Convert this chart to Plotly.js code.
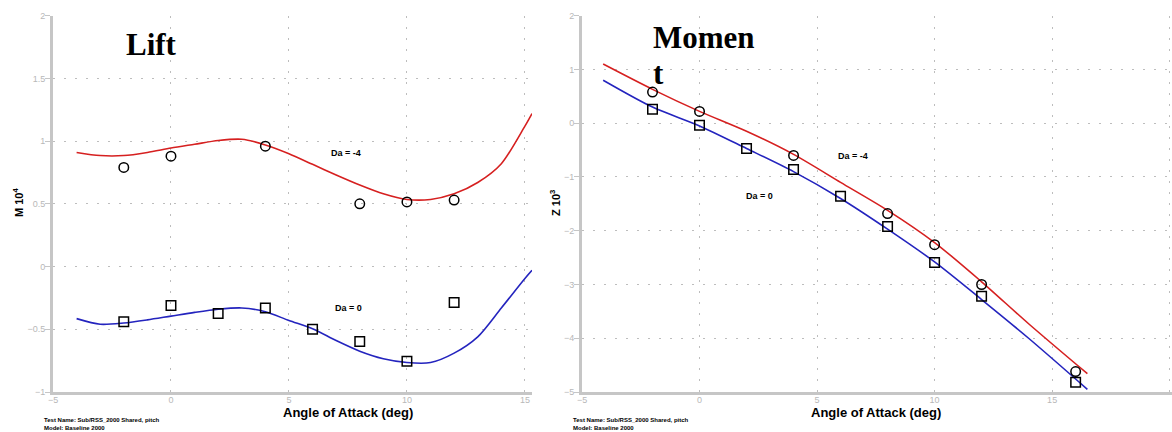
<!DOCTYPE html>
<html>
<head>
<meta charset="utf-8">
<script src="https://cdn.plot.ly/plotly-3.0.1.min.js"></script>
<style>
  html, body { margin: 0; padding: 0; background: #ffffff; }
  #chart { width: 1172px; height: 432px; }
</style>
</head>
<body>
<div id="chart"></div>
<script>
// ---- Lift panel: measured points ----
const liftAlphaM4 = [-2, 0, 4, 8, 10, 12];
const liftM4 = [0.79, 0.88, 0.96, 0.50, 0.515, 0.53];
const liftAlpha0 = [-2, 0, 2, 4, 6, 8, 10, 12];
const lift0 = [-0.44, -0.31, -0.375, -0.33, -0.50, -0.597, -0.755, -0.286];

// ---- Lift panel: fitted curves ----
const liftFitAlpha = [-4, -3, -2, -1, 0, 1, 2, 3, 4, 5, 6, 7, 8, 9, 10, 11, 12, 13, 14, 15, 15.3];
const liftFitM4 = [0.91, 0.885, 0.885, 0.91, 0.945, 0.975, 1.005, 1.015, 0.97, 0.9, 0.815, 0.73, 0.65, 0.58, 0.535, 0.535, 0.58, 0.67, 0.82, 1.12, 1.22];
const liftFit0 = [-0.415, -0.46, -0.45, -0.425, -0.395, -0.365, -0.34, -0.33, -0.36, -0.43, -0.495, -0.59, -0.675, -0.735, -0.765, -0.765, -0.69, -0.56, -0.33, -0.095, -0.03];

// ---- Moment panel: measured points ----
const momAlphaM4 = [-2, 0, 4, 8, 10, 12, 16];
const momM4 = [0.58, 0.22, -0.60, -1.68, -2.26, -3.00, -4.62];
const momAlpha0 = [-2, 0, 2, 4, 6, 8, 10, 12, 16];
const mom0 = [0.26, -0.04, -0.47, -0.86, -1.36, -1.92, -2.59, -3.22, -4.82];

// ---- Moment panel: fitted curves ----
const momFitAlpha = [-4.1, -2, 0, 2, 4, 6, 8, 10, 12, 14, 16.5];
const momFitM4 = [1.10, 0.63, 0.22, -0.15, -0.58, -1.10, -1.62, -2.22, -2.95, -3.73, -4.66];
const momFit0 = [0.80, 0.30, -0.05, -0.47, -0.90, -1.40, -1.97, -2.58, -3.28, -4.00, -4.95];

// ---- Text ----
const panelTitles = ['Lift', 'Momen', 't'];
const xTitle = 'Angle of Attack (deg)';
const yTitles = ['M 10<sup>4</sup>', 'Z 10<sup>3</sup>'];
const seriesNames = ['Da = -4', 'Da = 0'];
const footer = ['Test Name: Sub/RSS_2000 Shared, pitch', 'Model: Baseline 2000'];

const RED = 'rgb(214,32,32)';
const BLUE = 'rgb(36,36,190)';
const MARK = { color: '#000', size: 9.5, line: { color: '#000', width: 1.5 } };

function curve(x, y, color, xa, ya) {
  return { x, y, xaxis: xa, yaxis: ya, mode: 'lines', hoverinfo: 'skip',
           line: { color, width: 1.6, shape: 'spline', smoothing: 0.8 } };
}
function pts(x, y, symbol, xa, ya) {
  return { x, y, xaxis: xa, yaxis: ya, mode: 'markers',
           marker: Object.assign({ symbol }, MARK) };
}

const traces = [
  curve(liftFitAlpha, liftFitM4, RED, 'x', 'y'),
  curve(liftFitAlpha, liftFit0, BLUE, 'x', 'y'),
  pts(liftAlphaM4, liftM4, 'circle-open', 'x', 'y'),
  pts(liftAlpha0, lift0, 'square-open', 'x', 'y'),
  curve(momFitAlpha, momFitM4, RED, 'x2', 'y2'),
  curve(momFitAlpha, momFit0, BLUE, 'x2', 'y2'),
  pts(momAlphaM4, momM4, 'circle-open', 'x2', 'y2'),
  pts(momAlpha0, mom0, 'square-open', 'x2', 'y2')
];

const W = 1172, H = 432;
const px = v => v / W;
const py = v => 1 - v / H;

const axisCommon = {
  showline: true, linecolor: '#c6c6c6', linewidth: 3,
  showgrid: true, gridcolor: '#bdbdbd', gridwidth: 1, griddash: '2px,9px',
  zeroline: false, mirror: false,
  tickfont: { family: 'Arial, Liberation Sans, sans-serif', size: 9, color: '#b8b8b8' }
};
const xAxisCommon = Object.assign({}, axisCommon, { ticks: '', ticklabelstandoff: -3 });
const yAxisCommon = Object.assign({}, axisCommon, { ticks: 'outside', ticklen: 5, tickcolor: '#c6c6c6', tickwidth: 1, ticklabelstandoff: -2 });
const yDomain = [py(392), py(15.7)];

const layout = {
  width: W, height: H,
  margin: { l: 0, r: 0, t: 0, b: 0 },
  paper_bgcolor: '#ffffff', plot_bgcolor: '#ffffff',
  showlegend: false,
  xaxis: Object.assign({}, xAxisCommon, { domain: [px(53), px(532)], range: [-5, 15.3], dtick: 5, tick0: 0, anchor: 'y' }),
  yaxis: Object.assign({}, yAxisCommon, { domain: yDomain, range: [-1, 2], dtick: 0.5, tick0: 0, anchor: 'x' }),
  xaxis2: Object.assign({}, xAxisCommon, { domain: [px(582), 1], range: [-5, 20.1], dtick: 5, tick0: 0, anchor: 'y2' }),
  yaxis2: Object.assign({}, yAxisCommon, { domain: yDomain, range: [-5, 2], dtick: 1, tick0: 0, anchor: 'x2' }),
  annotations: []
};

const A = layout.annotations;
const titleFont = { family: 'Liberation Serif, Times New Roman, serif', size: 31, color: '#000' };
const boldSans = (size) => ({ family: 'Liberation Sans, Arial, sans-serif', size, color: '#000' });

// panel titles
A.push({ xref: 'paper', yref: 'paper', x: px(151), y: py(44), xanchor: 'center', yanchor: 'middle',
         text: '<b>' + panelTitles[0] + '</b>', showarrow: false, font: titleFont });
A.push({ xref: 'paper', yref: 'paper', x: px(651), y: py(37), xanchor: 'left', yanchor: 'middle',
         text: '<b>' + panelTitles[1] + '</b>', showarrow: false, font: titleFont });
A.push({ xref: 'paper', yref: 'paper', x: px(651), y: py(73), xanchor: 'left', yanchor: 'middle',
         text: '<b>' + panelTitles[2] + '</b>', showarrow: false, font: titleFont });

// x axis titles
A.push({ xref: 'paper', yref: 'paper', x: px(348), y: py(412), xanchor: 'center', yanchor: 'middle',
         text: '<b>' + xTitle + '</b>', showarrow: false, font: boldSans(13) });
A.push({ xref: 'paper', yref: 'paper', x: px(876), y: py(412), xanchor: 'center', yanchor: 'middle',
         text: '<b>' + xTitle + '</b>', showarrow: false, font: boldSans(13) });

// y axis titles
A.push({ xref: 'paper', yref: 'paper', x: px(18), y: py(203), xanchor: 'center', yanchor: 'middle',
         textangle: -90, text: '<b>' + yTitles[0] + '</b>', showarrow: false, font: boldSans(11) });
A.push({ xref: 'paper', yref: 'paper', x: px(555), y: py(203), xanchor: 'center', yanchor: 'middle',
         textangle: -90, text: '<b>' + yTitles[1] + '</b>', showarrow: false, font: boldSans(11) });

// series labels
A.push({ xref: 'x', yref: 'y', x: 7.42, y: 0.904, text: '<b>' + seriesNames[0] + '</b>', showarrow: false, font: boldSans(9) });
A.push({ xref: 'x', yref: 'y', x: 7.54, y: -0.33, text: '<b>' + seriesNames[1] + '</b>', showarrow: false, font: boldSans(9) });
A.push({ xref: 'x2', yref: 'y2', x: 6.53, y: -0.61, text: '<b>' + seriesNames[0] + '</b>', showarrow: false, font: boldSans(9) });
A.push({ xref: 'x2', yref: 'y2', x: 2.57, y: -1.36, text: '<b>' + seriesNames[1] + '</b>', showarrow: false, font: boldSans(9) });

// footers
[42, 571].forEach(left => {
  A.push({ xref: 'paper', yref: 'paper', x: px(left), y: py(420), xanchor: 'left', yanchor: 'middle',
           text: '<b>' + footer[0] + '</b>', showarrow: false, font: boldSans(6) });
  A.push({ xref: 'paper', yref: 'paper', x: px(left), y: py(427.5), xanchor: 'left', yanchor: 'middle',
           text: '<b>' + footer[1] + '</b>', showarrow: false, font: boldSans(6) });
});

Plotly.newPlot('chart', traces, layout, { displayModeBar: false, staticPlot: true });
</script>
</body>
</html>
